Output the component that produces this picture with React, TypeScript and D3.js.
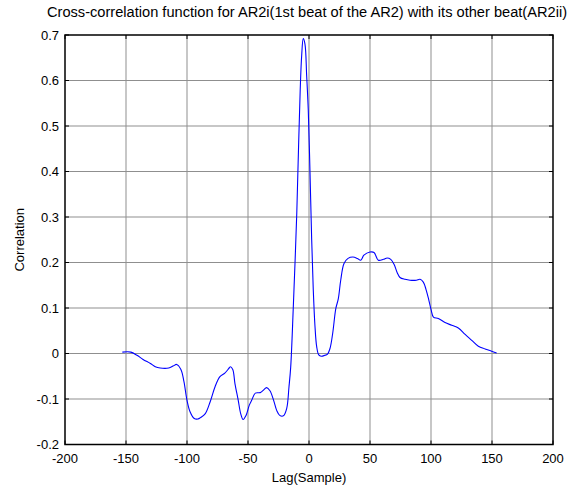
import React, { useEffect, useRef } from "react";
import * as d3 from "d3";

const titleText = "Cross-correlation function for AR2i(1st beat of the AR2) with its other beat(AR2ii)";
const xLabel = "Lag(Sample)";
const yLabel = "Correlation";

const xTicks = [-200, -150, -100, -50, 0, 50, 100, 150, 200];
const yTicks = [-0.2, -0.1, 0, 0.1, 0.2, 0.3, 0.4, 0.5, 0.6, 0.7];

// lag (samples)
const lags = [
  -153, -146, -141, -136, -130, -126, -122, -115, -111, -108.5,
  -105, -102.5, -100, -97.5, -94, -91, -89, -85, -81, -77,
  -73, -69, -66, -64.5, -62.5, -60.7, -58, -56, -54, -51.6,
  -49, -47, -44, -40, -37.5, -34.7, -32, -29, -26.5, -24,
  -21, -18.3, -16.4, -15, -12.9, -10, -8.5, -7.2, -6, -4.7,
  -3.3, -1.9, -0.6, 0.8, 2.2, 3.5, 4.9, 6.3, 8, 10,
  13, 15, 17.2, 19.4, 22, 24, 26, 28.7, 32, 36,
  39.6, 42.4, 45, 50, 53.3, 56.8, 61, 64, 67, 69.7,
  72.4, 74.6, 78.7, 82.8, 88, 91, 93.7, 96, 98, 100,
  102, 106, 111.5, 117, 122.4, 128, 133.4, 138.8, 144.3, 149.7,
  153.8,
];

const corr = [
  0.003, 0.003, -0.004, -0.013, -0.022, -0.029, -0.032, -0.032, -0.027, -0.024,
  -0.035, -0.062, -0.103, -0.128, -0.143, -0.144, -0.141, -0.132, -0.106, -0.073,
  -0.051, -0.043, -0.034, -0.029, -0.035, -0.066, -0.103, -0.132, -0.145, -0.136,
  -0.114, -0.103, -0.087, -0.086, -0.081, -0.075, -0.082, -0.103, -0.125, -0.136,
  -0.137, -0.121, -0.073, -0.03, 0.1, 0.31, 0.46, 0.58, 0.655, 0.692,
  0.68, 0.61, 0.535, 0.4, 0.25, 0.14, 0.06, 0.015, -0.003, -0.006,
  -0.004, -0.002, 0.011, 0.044, 0.099, 0.12, 0.161, 0.198, 0.209, 0.212,
  0.209, 0.205, 0.216, 0.223, 0.222, 0.205, 0.207, 0.21, 0.207, 0.196,
  0.177, 0.167, 0.163, 0.161, 0.161, 0.163, 0.157, 0.14, 0.12, 0.097,
  0.08, 0.077, 0.068, 0.062, 0.056, 0.042, 0.029, 0.016, 0.01, 0.005,
  0.001,
];

const W = 579;
const H = 491;
const margin = { top: 35, right: 26, bottom: 46.5, left: 65 };
const font = "'Liberation Sans', Arial, sans-serif";

function XCorrChart() {
  const ref = useRef<HTMLDivElement>(null);

  useEffect(() => {
    if (!ref.current) return;
    ref.current.innerHTML = "";

    const svg = d3
      .select(ref.current)
      .append("svg")
      .attr("width", W)
      .attr("height", H)
      .style("display", "block")
      .style("background", "#fff");

    const x = d3.scaleLinear().domain([-200, 200]).range([margin.left, W - margin.right]);
    const y = d3.scaleLinear().domain([-0.2, 0.7]).range([H - margin.bottom, margin.top]);

    const left = x(-200);
    const right = x(200);
    const top = y(0.7);
    const bottom = y(-0.2);

    // grid
    const grid = svg.append("g").attr("stroke", "#8f8f8f").attr("stroke-width", 1);
    xTicks.slice(1, -1).forEach((t) => {
      grid.append("line").attr("x1", x(t)).attr("x2", x(t)).attr("y1", top).attr("y2", bottom);
    });
    yTicks.slice(1, -1).forEach((t) => {
      grid.append("line").attr("x1", left).attr("x2", right).attr("y1", y(t)).attr("y2", y(t));
    });

    // inner tick marks
    const tk = svg.append("g").attr("stroke", "#000").attr("stroke-width", 1);
    xTicks.forEach((t) => {
      tk.append("line").attr("x1", x(t)).attr("x2", x(t)).attr("y1", bottom).attr("y2", bottom - 4);
      tk.append("line").attr("x1", x(t)).attr("x2", x(t)).attr("y1", top).attr("y2", top + 4);
    });
    yTicks.forEach((t) => {
      tk.append("line").attr("x1", left).attr("x2", left + 4).attr("y1", y(t)).attr("y2", y(t));
      tk.append("line").attr("x1", right).attr("x2", right - 4).attr("y1", y(t)).attr("y2", y(t));
    });

    // data line
    const pts = lags.map((l, i) => [l, corr[i]] as [number, number]);
    const line = d3
      .line<[number, number]>()
      .x((d) => x(d[0]))
      .y((d) => y(d[1]))
      .curve(d3.curveCatmullRom.alpha(0.5));

    svg
      .append("path")
      .datum(pts)
      .attr("d", line)
      .attr("fill", "none")
      .attr("stroke", "#0000ff")
      .attr("stroke-width", 1.1);

    // frame
    svg
      .append("rect")
      .attr("x", left)
      .attr("y", top)
      .attr("width", right - left)
      .attr("height", bottom - top)
      .attr("fill", "none")
      .attr("stroke", "#000")
      .attr("stroke-width", 1.5);

    // tick labels
    svg
      .append("g")
      .selectAll("text")
      .data(xTicks)
      .join("text")
      .attr("x", (d) => x(d))
      .attr("y", bottom + 18)
      .attr("text-anchor", "middle")
      .style("font", `13px ${font}`)
      .text((d) => String(d));

    svg
      .append("g")
      .selectAll("text")
      .data(yTicks)
      .join("text")
      .attr("x", left - 6)
      .attr("y", (d) => y(d) + 4.5)
      .attr("text-anchor", "end")
      .style("font", `13px ${font}`)
      .text((d) => (d === 0 ? "0" : d.toFixed(1)));

    svg
      .append("text")
      .attr("x", (left + right) / 2)
      .attr("y", bottom + 37)
      .attr("text-anchor", "middle")
      .style("font", `13px ${font}`)
      .text(xLabel);

    svg
      .append("text")
      .attr("transform", `translate(24,${(top + bottom) / 2}) rotate(-90)`)
      .attr("text-anchor", "middle")
      .style("font", `13px ${font}`)
      .text(yLabel);

    svg
      .append("text")
      .attr("x", 307)
      .attr("y", top - 18)
      .attr("text-anchor", "middle")
      .attr("textLength", 520)
      .attr("lengthAdjust", "spacingAndGlyphs")
      .style("font", `14px ${font}`)
      .text(titleText);
  }, []);

  return <div ref={ref} />;
}

export default function App() {
  useEffect(() => {
    document.body.style.margin = "0";
  }, []);
  return <XCorrChart />;
}
